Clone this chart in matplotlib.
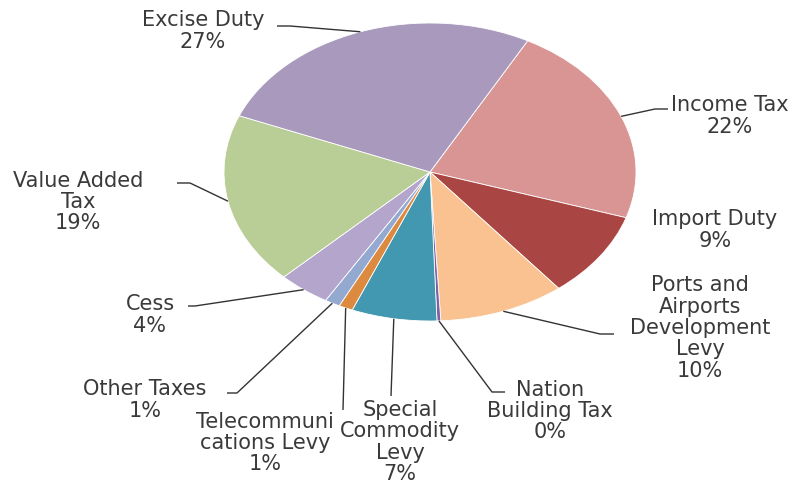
import numpy as np
import matplotlib
matplotlib.use("Agg")
import matplotlib.pyplot as plt

# tax revenue shares, clockwise from the top right
names = ["Income Tax", "Import Duty", "Ports and\nAirports\nDevelopment\nLevy",
         "Nation\nBuilding Tax", "Special\nCommodity\nLevy",
         "Telecommuni\ncations Levy", "Other Taxes", "Cess",
         "Value Added\nTax", "Excise Duty"]
shares = [22.1, 9.3, 9.9, 0.3, 6.7, 1.1, 1.2, 4.1, 18.6, 26.7]
colors = ["#D99594", "#A94543", "#F9C290", "#7E62A1", "#4198B0",
          "#DB8A3F", "#93A9D0", "#B4A5CD", "#B9CD96", "#A99ABD"]

W, H = 812, 487
cx, cy = 430, 172      # pie centre, px
rx, ry = 206, 149      # pie is squashed into an ellipse in the reference

fig = plt.figure(figsize=(W / 100, H / 100), dpi=100)
ax = fig.add_axes([0, 0, 1, 1])

wedges, _ = ax.pie(shares, colors=colors, startangle=61.7, counterclock=False,
                   radius=1, center=(0, 0),
                   wedgeprops=dict(linewidth=0.6, edgecolor="white"))
ax.set_xlim(-cx / rx, (W - cx) / rx)
ax.set_ylim(-(H - cy) / ry, cy / ry)
ax.set_aspect("auto")
ax.axis("off")


def d(px, py):
    return (px - cx) / rx, (cy - py) / ry


# label placement in px: text centre, elbow of the leader line, end of stub
label_pos = {
    "Excise Duty": ((203, 31), (290, 26), (277, 26)),
    "Income Tax": ((730, 116), (655, 109), (668, 109)),
    "Import Duty": ((715, 230), None, None),
    "Ports and\nAirports\nDevelopment\nLevy": ((700, 328), (600, 334), (614, 334)),
    "Nation\nBuilding Tax": ((550, 411), (492, 392), (505, 392)),
    "Special\nCommodity\nLevy": ((400, 442), (391, 396), None),
    "Telecommuni\ncations Levy": ((265, 443), (343, 410), None),
    "Other Taxes": ((145, 400), (237, 393), (227, 393)),
    "Cess": ((150, 315), (195, 306), (188, 306)),
    "Value Added\nTax": ((78, 202), (190, 183), (177, 183)),
}

txt_color = "#3A3A3A"
for w, name, s in zip(wedges, names, shares):
    (tx, ty), elbow, stub = label_pos[name]
    ax.text(*d(tx, ty), f"{name}\n{round(s)}%", ha="center", va="center",
            fontsize=15, color=txt_color, family="DejaVu Sans",
            linespacing=1.08)
    if elbow is None:
        continue
    mid = np.deg2rad((w.theta1 + w.theta2) / 2)
    ax_pt = (np.cos(mid), np.sin(mid))
    ex, ey = d(*elbow)
    xs, ys = [ax_pt[0], ex], [ax_pt[1], ey]
    if stub is not None:
        sx, sy = d(*stub)
        xs.append(sx)
        ys.append(sy)
    ax.plot(xs, ys, color="#333333", lw=1.0, solid_capstyle="butt")

fig.savefig("out.png", dpi=100)
